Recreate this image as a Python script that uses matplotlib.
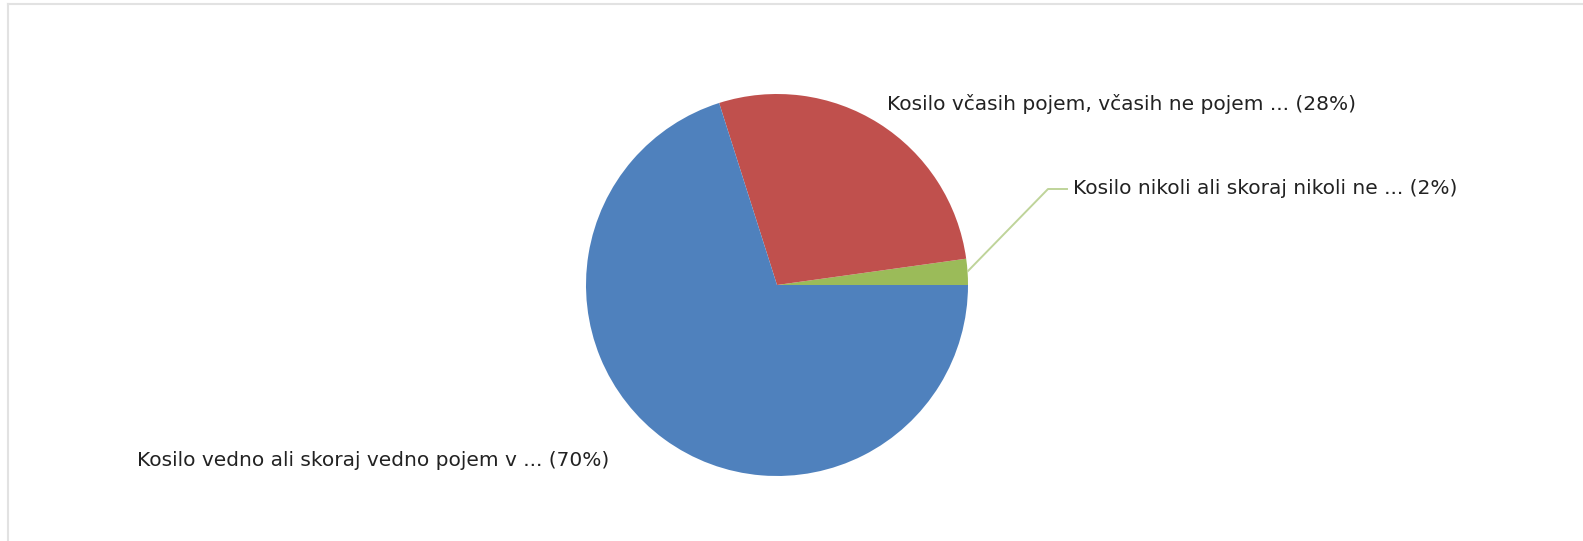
import matplotlib.pyplot as plt
from matplotlib.lines import Line2D

plt.rcParams['font.family'] = ['DejaVu Sans']

# data
labels = ["Kosilo vedno ali skoraj vedno pojem v ...",
          "Kosilo včasih pojem, včasih ne pojem ...",
          "Kosilo nikoli ali skoraj nikoli ne ..."]
shown_pct = [70, 28, 2]
values = [70.1, 27.7, 2.2]
colors = ["#4F81BD", "#C0504D", "#9BBB59"]

W, H = 1583, 541
fig = plt.figure(figsize=(W / 100, H / 100), dpi=100)
ax = fig.add_axes([0, 0, 1, 1])

# pie order: green from 0 deg, then red, then blue (counter-clockwise)
cx, cy, r = 777, H - 285, 191
ax.pie(values[::-1], colors=colors[::-1], startangle=0, counterclock=True,
       center=(cx, cy), radius=r, frame=True,
       wedgeprops=dict(linewidth=0))
ax.set_xlim(0, W)
ax.set_ylim(0, H)
ax.set_aspect("equal")
ax.axis("off")

# labels
txt = dict(fontsize=14.5, color="#222222", va="center")
ax.text(137, H - 460, f"{labels[0]} ({shown_pct[0]}%)", ha="left", **txt)
ax.text(887, H - 104, f"{labels[1]} ({shown_pct[1]}%)", ha="left", **txt)
ax.text(1073, H - 189, f"{labels[2]} ({shown_pct[2]}%)", ha="left", **txt)

# leader line for small slice
ax.plot([968, 1048, 1067], [H - 271, H - 189, H - 189], color="#BFD49A", lw=1.4)

# frame of the chart area
fig.add_artist(Line2D([8 / W, 8 / W], [0, 1 - 4 / H], transform=fig.transFigure,
                      color="#E2E2E2", lw=1.5))
fig.add_artist(Line2D([8 / W, 1], [1 - 4 / H, 1 - 4 / H], transform=fig.transFigure,
                      color="#E2E2E2", lw=1.5))

fig.savefig("out.png", dpi=100)
